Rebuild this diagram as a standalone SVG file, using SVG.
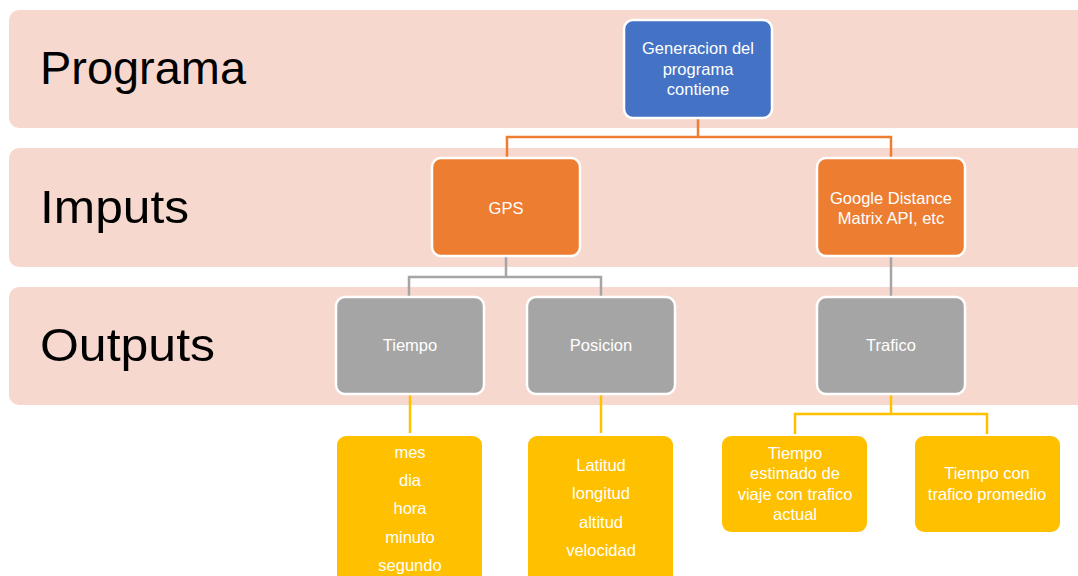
<svg xmlns="http://www.w3.org/2000/svg" width="1078" height="576" viewBox="0 0 1078 576">
<style>
.band{fill:#F7D8CE}
.title{font-family:"Liberation Sans",Arial,sans-serif;font-size:47px;fill:#000}
.lbl{font-family:"Liberation Sans",Arial,sans-serif;font-size:16.5px;fill:#fff;text-anchor:middle}
.box{stroke:#fff;stroke-width:2.5}
.blue{fill:#4472C4}
.orange{fill:#ED7D31}
.gray{fill:#A5A5A5}
.yellow{fill:#FFC000}
.c{fill:none;stroke-width:2.5}
.co{stroke:#ED7D31}
.cg{stroke:#A5A5A5}
.cy{stroke:#FFC000}
</style>
<g id="bands">
<rect class="band" x="9" y="10" width="1090" height="118" rx="10"/>
<rect class="band" x="9" y="148" width="1090" height="119" rx="10"/>
<rect class="band" x="9" y="287" width="1090" height="118" rx="10"/>
<text class="title" x="40" y="84" textLength="206" lengthAdjust="spacingAndGlyphs">Programa</text>
<text class="title" x="40" y="223" textLength="149" lengthAdjust="spacingAndGlyphs">Imputs</text>
<text class="title" x="40" y="361" textLength="175" lengthAdjust="spacingAndGlyphs">Outputs</text>
</g>
<g id="connectors">
<path class="c co" d="M698 118 V137 H507 V158 M698 137 H891 V158"/>
<path class="c cg" d="M506 256 V277 H409 V297 M506 277 H601 V297"/>
<path class="c cg" d="M891 256 V297"/>
<path class="c cy" d="M410 394 V433"/>
<path class="c cy" d="M601 394 V433"/>
<path class="c cy" d="M891 394 V414 H795 V434 M891 414 H987 V434"/>
</g>
<g id="n-programa">
<rect class="box blue" x="624" y="20" width="148" height="98" rx="9"/>
<text class="lbl" x="698" y="54">Generacion del</text>
<text class="lbl" x="698" y="75">programa</text>
<text class="lbl" x="698" y="95">contiene</text>
</g>
<g id="n-gps">
<rect class="box orange" x="432" y="158" width="148" height="98" rx="9"/>
<text class="lbl" x="506" y="214">GPS</text>
</g>
<g id="n-google">
<rect class="box orange" x="817" y="158" width="148" height="98" rx="9"/>
<text class="lbl" x="891" y="204">Google Distance</text>
<text class="lbl" x="891" y="224">Matrix API, etc</text>
</g>
<g id="n-tiempo">
<rect class="box gray" x="336" y="297" width="148" height="97" rx="9"/>
<text class="lbl" x="410" y="351">Tiempo</text>
</g>
<g id="n-posicion">
<rect class="box gray" x="527" y="297" width="148" height="97" rx="9"/>
<text class="lbl" x="601" y="351">Posicion</text>
</g>
<g id="n-trafico">
<rect class="box gray" x="817" y="297" width="148" height="97" rx="9"/>
<text class="lbl" x="891" y="351">Trafico</text>
</g>
<g id="n-tiempo-det">
<rect class="yellow" x="337" y="436" width="145" height="150" rx="9"/>
<text class="lbl" x="410" y="458">mes</text>
<text class="lbl" x="410" y="486">dia</text>
<text class="lbl" x="410" y="514">hora</text>
<text class="lbl" x="410" y="543">minuto</text>
<text class="lbl" x="410" y="571">segundo</text>
</g>
<g id="n-posicion-det">
<rect class="yellow" x="528" y="436" width="145" height="150" rx="9"/>
<text class="lbl" x="601" y="471">Latitud</text>
<text class="lbl" x="601" y="499">longitud</text>
<text class="lbl" x="601" y="528">altitud</text>
<text class="lbl" x="601" y="556">velocidad</text>
</g>
<g id="n-estimado">
<rect class="yellow" x="722" y="436" width="145" height="96" rx="9"/>
<text class="lbl" x="795" y="459">Tiempo</text>
<text class="lbl" x="795" y="479">estimado de</text>
<text class="lbl" x="795" y="500">viaje con trafico</text>
<text class="lbl" x="795" y="520">actual</text>
</g>
<g id="n-promedio">
<rect class="yellow" x="915" y="436" width="145" height="96" rx="9"/>
<text class="lbl" x="987" y="479">Tiempo con</text>
<text class="lbl" x="987" y="500">trafico promedio</text>
</g>
</svg>
